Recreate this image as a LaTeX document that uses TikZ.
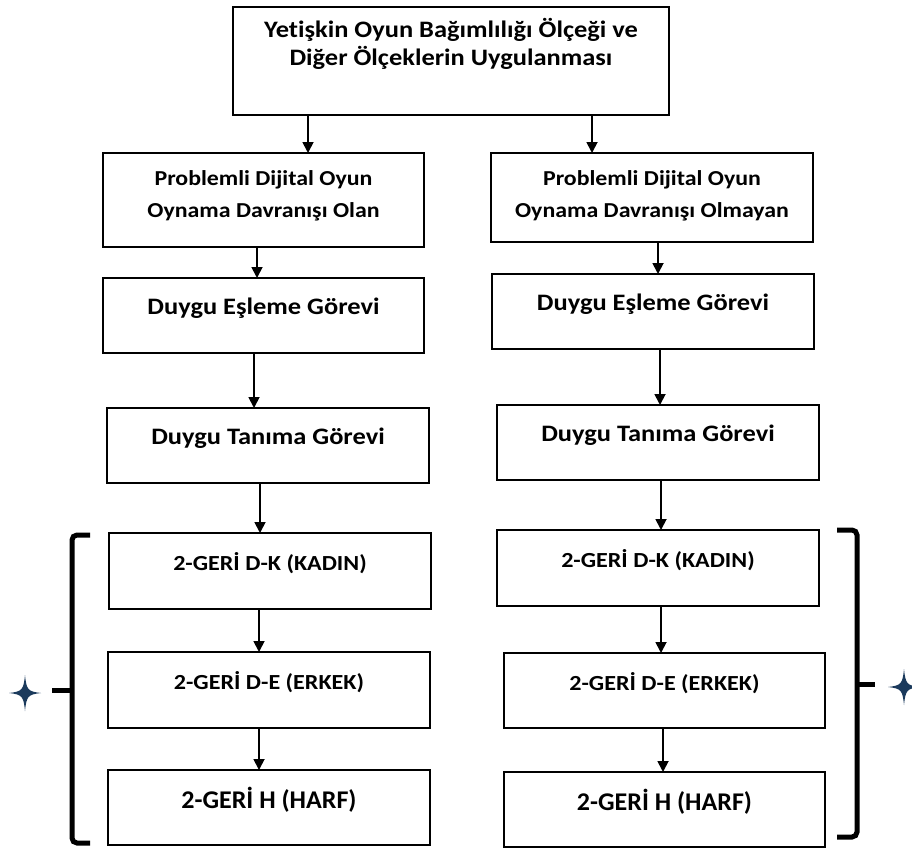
\documentclass[tikz,border=0pt]{standalone}
\usepackage{fontspec}
\setmainfont{Carlito}[FakeStretch=1.12, Ligatures=NoCommon]
\newfontfamily\harffont{Carlito}[FakeStretch=1.02, Ligatures=NoCommon]
\usetikzlibrary{arrows.meta}
\definecolor{starblue}{HTML}{1B3A5C}
\begin{document}
\begin{tikzpicture}[x=1pt,y=-1pt,
  box/.style={draw, line width=2.2pt, rectangle, anchor=north west, inner sep=0pt, outer sep=0pt},
  lbl/.style={anchor=base, font=\bfseries\fontsize{#1}{#1}\selectfont, inner sep=0pt},
  hlbl/.style={anchor=base, font=\harffont\bfseries\fontsize{#1}{#1}\selectfont, inner sep=0pt},
  arr/.style={line width=1.8pt, -{Triangle[width=11pt,length=11pt]}},
  brk/.style={line width=5pt, rounded corners=5pt},
  starfill/.style={fill=starblue, draw=none}]
\useasboundingbox (0,0) rectangle (912,849);
% boxes
\node[box, minimum width=436, minimum height=108] (top) at (233,7) {};
\node[box, minimum width=321, minimum height=94] (lb1) at (103,153) {};
\node[box, minimum width=321, minimum height=75] (lb2) at (103,278) {};
\node[box, minimum width=322, minimum height=75] (lb3) at (107,408) {};
\node[box, minimum width=322, minimum height=76] (lb4) at (109,533) {};
\node[box, minimum width=322, minimum height=76] (lb5) at (108,652) {};
\node[box, minimum width=322, minimum height=75] (lb6) at (108,770) {};
\node[box, minimum width=322, minimum height=89] (rb1) at (491,153) {};
\node[box, minimum width=322, minimum height=75] (rb2) at (492,274) {};
\node[box, minimum width=322, minimum height=75] (rb3) at (497,405) {};
\node[box, minimum width=322, minimum height=76] (rb4) at (497,530) {};
\node[box, minimum width=321, minimum height=75] (rb5) at (504,653) {};
\node[box, minimum width=321, minimum height=75] (rb6) at (504,772) {};
% texts
\node[lbl=23.6] (topt1) at ([yshift=-30pt]top.north) {Yetişkin Oyun Bağımlılığı Ölçeği ve};
\node[lbl=23.6] (topt2) at ([yshift=-58pt]top.north) {Diğer Ölçeklerin Uygulanması};
\node[lbl=21.3] (lb1t1) at ([yshift=-32pt]lb1.north) {Problemli Dijital Oyun};
\node[lbl=21.3] (lb1t2) at ([yshift=-64pt]lb1.north) {Oynama Davranışı Olan};
\node[lbl=21.3] (rb1t1) at ([yshift=-32pt]rb1.north) {Problemli Dijital Oyun};
\node[lbl=21.3] (rb1t2) at ([yshift=-64pt]rb1.north) {Oynama Davranışı Olmayan};
\node[lbl=23.6] (lb2t) at ([yshift=-36pt]lb2.north) {Duygu Eşleme Görevi};
\node[lbl=23.6] (rb2t) at ([yshift=-36pt]rb2.north) {Duygu Eşleme Görevi};
\node[lbl=23.6] (lb3t) at ([yshift=-36pt]lb3.north) {Duygu Tanıma Görevi};
\node[lbl=23.6] (rb3t) at ([yshift=-36pt]rb3.north) {Duygu Tanıma Görevi};
\node[lbl=21.5] (lb4t) at ([yshift=-37pt]lb4.north) {2-GERİ D-K (KADIN)};
\node[lbl=21.5] (rb4t) at ([yshift=-37pt]rb4.north) {2-GERİ D-K (KADIN)};
\node[lbl=21.5] (lb5t) at ([yshift=-37pt]lb5.north) {2-GERİ D-E (ERKEK)};
\node[lbl=21.5] (rb5t) at ([yshift=-37pt]rb5.north) {2-GERİ D-E (ERKEK)};
\node[hlbl=25.5] (lb6t) at ([yshift=-38pt]lb6.north) {2-GERİ H (HARF)};
\node[hlbl=25.5] (rb6t) at ([yshift=-38pt]rb6.north) {2-GERİ H (HARF)};
% arrow columns
\coordinate (ta) at (308,0);
\coordinate (tb) at (592,0);
\coordinate (l1) at (257,0);
\coordinate (l2) at (254,0);
\coordinate (l3) at (260,0);
\coordinate (l4) at (259,0);
\coordinate (l5) at (259,0);
\coordinate (r1) at (658,0);
\coordinate (r2) at (660,0);
\coordinate (r3) at (661,0);
\coordinate (r4) at (661,0);
\coordinate (r5) at (663,0);
\draw[arr] (top.south -| ta) -- (lb1.north -| ta);
\draw[arr] (top.south -| tb) -- (rb1.north -| tb);
\draw[arr] (lb1.south -| l1) -- (lb2.north -| l1);
\draw[arr] (lb2.south -| l2) -- (lb3.north -| l2);
\draw[arr] (lb3.south -| l3) -- (lb4.north -| l3);
\draw[arr] (lb4.south -| l4) -- (lb5.north -| l4);
\draw[arr] (lb5.south -| l5) -- (lb6.north -| l5);
\draw[arr] (rb1.south -| r1) -- (rb2.north -| r1);
\draw[arr] (rb2.south -| r2) -- (rb3.north -| r2);
\draw[arr] (rb3.south -| r3) -- (rb4.north -| r3);
\draw[arr] (rb4.south -| r4) -- (rb5.north -| r4);
\draw[arr] (rb5.south -| r5) -- (rb6.north -| r5);
% brackets
\draw[brk] (90,535) -- (72,535) -- (72,843) -- (90,843);
\draw[line width=5pt] (52,690) -- (72,690);
\draw[brk] (837,530) -- (857,530) -- (857,837) -- (837,837);
\draw[line width=5pt] (857,684) -- (875,684);
% stars
\foreach \cx/\cy in {25/693, 904/687}{
  \fill[starfill] (\cx,\cy-18) .. controls (\cx+1.5,\cy-3) and (\cx+3,\cy-1.5) .. (\cx+16,\cy)
    .. controls (\cx+3,\cy+1.5) and (\cx+1.5,\cy+3) .. (\cx,\cy+18)
    .. controls (\cx-1.5,\cy+3) and (\cx-3,\cy+1.5) .. (\cx-16,\cy)
    .. controls (\cx-3,\cy-1.5) and (\cx-1.5,\cy-3) .. cycle;
}
\end{tikzpicture}
\end{document}
